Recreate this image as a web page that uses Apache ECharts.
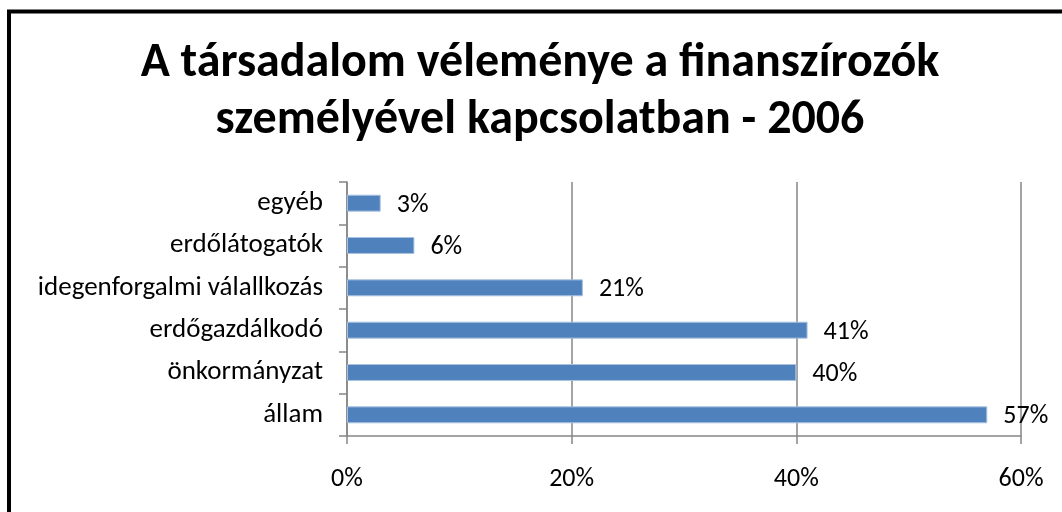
<!DOCTYPE html>
<html>
<head>
<meta charset="utf-8">
<script src="https://cdn.jsdelivr.net/npm/echarts@6/dist/echarts.min.js"></script>
<style>
  html, body { margin: 0; padding: 0; background: #fff; }
  #chart { width: 1062px; height: 512px; }
</style>
</head>
<body>
<div id="chart"></div>
<script>
// Categories listed bottom-to-top (ECharts puts the first category at the bottom)
const categories = ['állam', 'önkormányzat', 'erdőgazdálkodó', 'idegenforgalmi válallkozás', 'erdőlátogatók', 'egyéb'];
// Share of respondents, percent
const shares = [57, 40, 41, 21, 6, 3];
const titleLines = ['A társadalom véleménye a finanszírozók', 'személyével kapcsolatban - 2006'];

const FONT = 'Carlito, Lato, "Open Sans", sans-serif';
const AXIS_GREY = '#868686';

const chart = echarts.init(document.getElementById('chart'), null, { renderer: 'canvas' });

chart.setOption({
  animation: false,
  backgroundColor: '#ffffff',
  textStyle: { fontFamily: FONT },
  title: {
    text: titleLines.join('\n'),
    left: 540,
    textAlign: 'center',
    top: 35,
    padding: 0,
    textStyle: {
      fontFamily: FONT,
      fontSize: 48,
      fontWeight: 'bold',
      color: '#000',
      lineHeight: 57
    }
  },
  graphic: [{
    type: 'rect',
    shape: { x: 9, y: 11.5, width: 1200, height: 700 },
    style: { fill: 'none', stroke: '#000', lineWidth: 4 },
    silent: true,
    z: 100
  }],
  grid: { left: 347, right: 41, top: 182, bottom: 76, containLabel: false },
  xAxis: {
    type: 'value',
    min: 0,
    max: 60,
    interval: 20,
    axisLine: { show: true, lineStyle: { color: AXIS_GREY, width: 1.5 } },
    axisTick: { show: true, length: 8, lineStyle: { color: AXIS_GREY, width: 1.5 } },
    splitLine: { show: true, lineStyle: { color: AXIS_GREY, width: 1.5 } },
    axisLabel: {
      formatter: '{value}%',
      color: '#000',
      fontFamily: FONT,
      fontSize: 26,
      margin: 30
    }
  },
  yAxis: {
    type: 'category',
    data: categories,
    axisLine: { show: true, lineStyle: { color: AXIS_GREY, width: 1.5 } },
    axisTick: { show: true, length: 8, lineStyle: { color: AXIS_GREY, width: 1.5 } },
    axisLabel: {
      color: '#000',
      fontFamily: FONT,
      fontSize: 27,
      margin: 24
    }
  },
  series: [{
    type: 'bar',
    data: shares,
    barCategoryGap: '60%',
    itemStyle: { color: '#4F81BD', borderColor: '#A9C2E0', borderWidth: 1 },
    label: {
      show: true,
      position: 'right',
      distance: 16,
      offset: [0, 2],
      formatter: '{c}%',
      color: '#000',
      fontFamily: FONT,
      fontSize: 26
    }
  }]
});
</script>
</body>
</html>
